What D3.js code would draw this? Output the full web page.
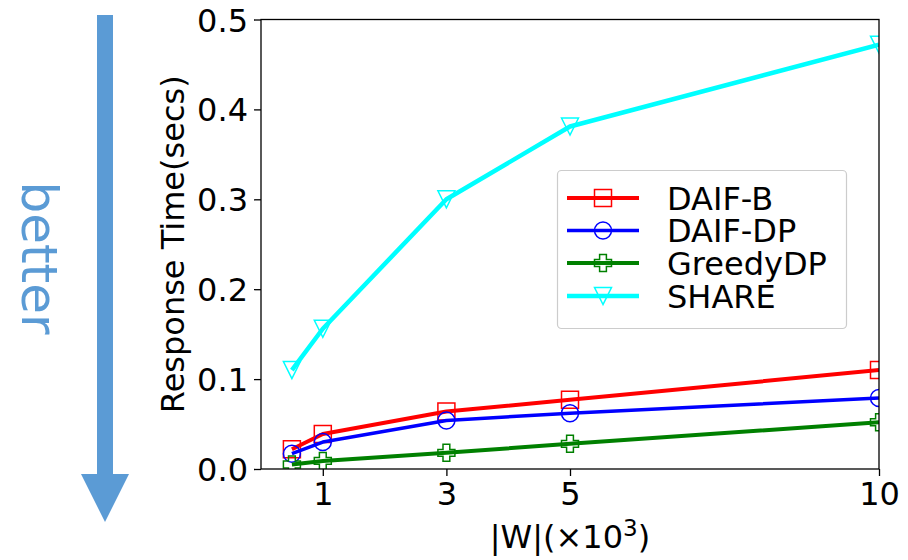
<!DOCTYPE html>
<html>
<head>
<meta charset="utf-8">
<script src="https://cdn.jsdelivr.net/npm/d3@7"></script>
<style>
  html, body { margin: 0; padding: 0; background: #fff; }
  svg { display: block; }
  text { font-family: "DejaVu Sans", sans-serif; fill: #000; }
</style>
</head>
<body>
<svg id="chart" width="908" height="560"></svg>
<script>
// |W| in thousands
const xValues = [0.5, 1, 3, 5, 10];
const xTicks = [1, 3, 5, 10];
const yTicks = [0.0, 0.1, 0.2, 0.3, 0.4, 0.5];

// response time (secs) per method
const daifB    = [0.022, 0.039, 0.064, 0.077, 0.110];
const daifDP   = [0.017, 0.030, 0.054, 0.062, 0.079];
const greedyDP = [0.005, 0.009, 0.018, 0.028, 0.052];
const share    = [0.110, 0.156, 0.300, 0.381, 0.472];

const seriesNames = ["DAIF-B", "DAIF-DP", "GreedyDP", "SHARE"];
const seriesColors = ["#ff0000", "#0000ff", "#008000", "#00ffff"];
const seriesMarkers = ["square", "circle", "plus", "triangleDown"];
const seriesWidths = [4, 3.5, 4, 4.5];
const seriesValues = [daifB, daifDP, greedyDP, share];

const svg = d3.select("#chart");
const plot = { left: 261, right: 879, top: 19.5, bottom: 469 };

const x = d3.scaleLinear().domain([0, 10]).range([plot.left, plot.right]);
const y = d3.scaleLinear().domain([0, 0.5]).range([plot.bottom, plot.top]);

const accent = "#5b9bd5";

// "better" direction arrow
const arrowG = svg.append("g");
arrowG.append("rect")
  .attr("x", 97).attr("y", 15).attr("width", 16).attr("height", 462)
  .attr("fill", accent);
arrowG.append("path")
  .attr("d", "M81,474 L129,474 L105,522 Z")
  .attr("fill", accent);
svg.append("text")
  .attr("transform", "translate(22,258) rotate(90)")
  .attr("text-anchor", "middle")
  .style("font-size", "50px")
  .style("fill", accent)
  .text("better");

// clip region for the data
svg.append("defs").append("clipPath").attr("id", "plotClip")
  .append("rect")
  .attr("x", plot.left).attr("y", plot.top)
  .attr("width", plot.right - plot.left).attr("height", plot.bottom - plot.top);

// axes
const xAxis = d3.axisBottom(x).tickValues(xTicks).tickFormat(d3.format("d"))
  .tickSize(7).tickPadding(6);
const yAxis = d3.axisLeft(y).tickValues(yTicks).tickFormat(d3.format(".1f"))
  .tickSize(7).tickPadding(6);

const gx = svg.append("g").attr("transform", `translate(0,${plot.bottom})`).call(xAxis);
const gy = svg.append("g").attr("transform", `translate(${plot.left},0)`).call(yAxis);
[gx, gy].forEach(g => {
  g.select(".domain").remove();
  g.selectAll(".tick line").attr("stroke", "#000").attr("stroke-width", 1.3);
  g.selectAll(".tick text").style("font-size", "32px").style("font-family", "DejaVu Sans, sans-serif").attr("fill", "#000");
});
gy.selectAll(".tick text").attr("dy", "0.36em");

// data lines and markers
const dataG = svg.append("g").attr("clip-path", "url(#plotClip)");
const line = d3.line().x((d, i) => x(xValues[i])).y(d => y(d));

function markerPath(type, s) {
  const h = s / 2;
  if (type === "square") return `M${-h},${-h}H${h}V${h}H${-h}Z`;
  if (type === "circle") return `M${h},0A${h},${h} 0 1,1 ${-h},0A${h},${h} 0 1,1 ${h},0Z`;
  if (type === "triangleDown") return `M0,${h}L${-h},${-h}L${h},${-h}Z`;
  if (type === "plus") {
    const a = 0.4 * h;
    return `M${-h},${-a}L${-h},${a}L${-a},${a}L${-a},${h}L${a},${h}L${a},${a}L${h},${a}L${h},${-a}L${a},${-a}L${a},${-h}L${-a},${-h}L${-a},${-a}Z`;
  }
}

const markerSize = 17;
seriesValues.forEach((vals, k) => {
  dataG.append("path")
    .datum(vals)
    .attr("d", line)
    .attr("fill", "none")
    .attr("stroke", seriesColors[k])
    .attr("stroke-width", seriesWidths[k])
    .attr("stroke-linejoin", "round");
  dataG.selectAll(null).data(vals).enter().append("path")
    .attr("transform", (d, i) => `translate(${x(xValues[i])},${y(d)})`)
    .attr("d", markerPath(seriesMarkers[k], markerSize))
    .attr("fill", "none")
    .attr("stroke", seriesColors[k])
    .attr("stroke-width", 1.5);
});

// frame
svg.append("rect")
  .attr("x", plot.left).attr("y", plot.top)
  .attr("width", plot.right - plot.left).attr("height", plot.bottom - plot.top)
  .attr("fill", "none").attr("stroke", "#000").attr("stroke-width", 1.3);

// axis titles
svg.append("text")
  .attr("transform", `translate(184,${(plot.top + plot.bottom) / 2}) rotate(-90)`)
  .attr("text-anchor", "middle")
  .style("font-size", "32px")
  .text("Response Time(secs)");

const xl = svg.append("text")
  .attr("x", (plot.left + plot.right) / 2).attr("y", 548)
  .attr("text-anchor", "middle")
  .style("font-size", "32px");
xl.append("tspan").text("|W|(×10");
xl.append("tspan").attr("dy", "-12").style("font-size", "23px").text("3");
xl.append("tspan").attr("dy", "12").text(")");

// legend
const lg = svg.append("g");
lg.append("rect")
  .attr("x", 557.5).attr("y", 170.5).attr("width", 289).attr("height", 158)
  .attr("rx", 4).attr("ry", 4)
  .attr("fill", "#fff").attr("fill-opacity", 0.8)
  .attr("stroke", "#cccccc").attr("stroke-width", 1.2);
const rowY = [198, 230.5, 263, 296];
seriesNames.forEach((name, k) => {
  const r = lg.append("g").attr("transform", `translate(0,${rowY[k]})`);
  r.append("line")
    .attr("x1", 567).attr("x2", 639).attr("y1", 0).attr("y2", 0)
    .attr("stroke", seriesColors[k]).attr("stroke-width", seriesWidths[k]);
  r.append("path")
    .attr("transform", "translate(603,0)")
    .attr("d", markerPath(seriesMarkers[k], markerSize))
    .attr("fill", "none").attr("stroke", seriesColors[k]).attr("stroke-width", 1.5);
  r.append("text")
    .attr("x", 667).attr("y", 11.5)
    .style("font-size", "32px")
    .text(name);
});
</script>
</body>
</html>
